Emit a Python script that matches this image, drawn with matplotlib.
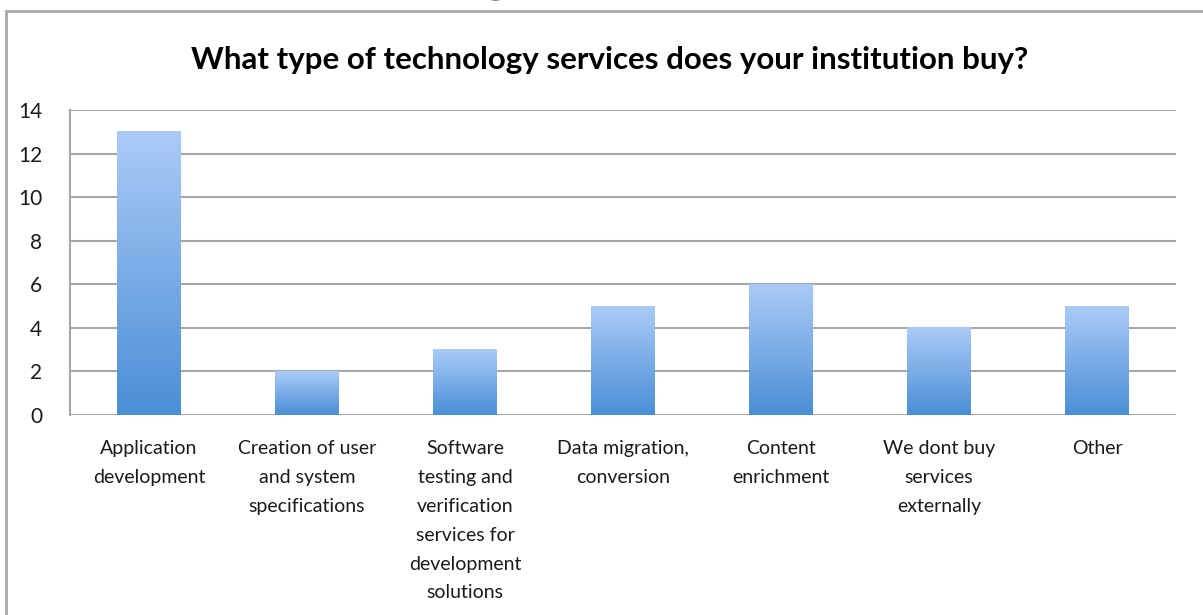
import numpy as np
import matplotlib.pyplot as plt
from matplotlib.colors import LinearSegmentedColormap
from matplotlib.patches import Rectangle

# Datos de la encuesta
categorias = [
    "Application\ndevelopment",
    "Creation of user\nand system\nspecifications",
    "Software\ntesting and\nverification\nservices for\ndevelopment\nsolutions",
    "Data migration,\nconversion",
    "Content\nenrichment",
    "We dont buy\nservices\nexternally",
    "Other",
]
respuestas = [13, 2, 3, 5, 6, 4, 5]
marcas_y = [0, 2, 4, 6, 8, 10, 12, 14]

titulo = "What type of technology services does your institution buy?"
encabezado = "What type of technology"

W, H = 1203, 615
plt.rcParams['font.family'] = ['Lato', 'DejaVu Sans']

fig = plt.figure(figsize=(W/100, H/100), dpi=100)

# Marco gris del gráfico (cortado a la derecha y abajo)
fig.patches.append(Rectangle((6/W, -0.1), 1.2, (H - 11)/H + 0.1, transform=fig.transFigure,
                             fill=False, edgecolor="#a8a8a8", lw=2))
# Encabezado de arriba, casi fuera de la imagen
fig.text(-20/W, 1 + 8.5/H, encabezado, fontsize=36, fontweight="bold", color="black",
         ha="left", va="baseline")

ax = fig.add_axes([70/W, (H - 415)/H, 1106/W, 305/H])

x = np.arange(len(categorias))
ancho = 0.4
grad = LinearSegmentedColormap.from_list("azul", ["#4a8ed6", "#abcbf7"])
g = np.linspace(0, 1, 256).reshape(-1, 1)
for xi, h in zip(x, respuestas):
    ax.imshow(g, extent=[xi - ancho/2, xi + ancho/2, 0, h], origin="lower",
              aspect="auto", cmap=grad, zorder=3)

ax.set_xlim(-0.5, len(categorias) - 0.5)
ax.set_ylim(0, 14)
ax.set_yticks(marcas_y)
ax.set_xticks(x)
ax.set_xticklabels(categorias, fontsize=14, color="#1a1a1a")
for t in ax.get_xticklabels():
    t.set_linespacing(1.85)
    t.set_va("top")
ax.tick_params(axis="x", length=0, pad=18)
ax.tick_params(axis="y", length=0, pad=20, labelsize=15, labelcolor="#1a1a1a")
ax.grid(axis="y", color="#a6a6a6", lw=1.5, zorder=1)
for lado in ["top", "right", "bottom"]:
    ax.spines[lado].set_visible(False)
ax.spines["left"].set_color("#a6a6a6")
ax.spines["left"].set_linewidth(1.5)

fig.text(610/W, 1 - 60/H, titulo, fontsize=22.5, fontweight="bold", color="black",
         ha="center", va="center")

fig.savefig("out.png", dpi=100)
